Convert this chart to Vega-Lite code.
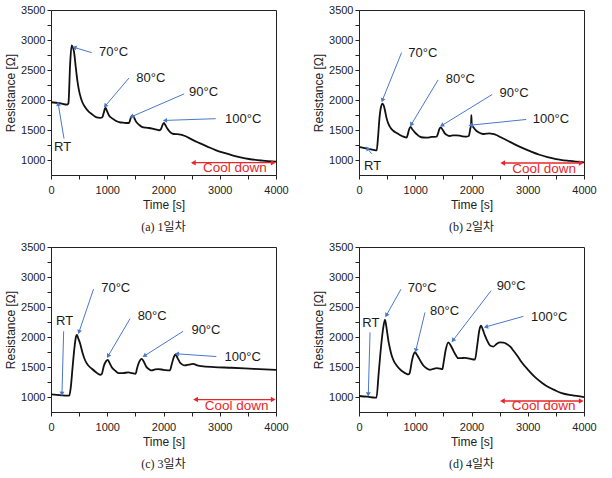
{
"$schema": "https://vega.github.io/schema/vega-lite/v6.json",
"background": "white",
"padding": {"left": 4, "top": 3, "right": 0, "bottom": 0},
"bounds": "flush",
"columns": 2,
"spacing": {"row": 72, "column": 83},
"config": {
  "view": {"stroke": "#222", "strokeWidth": 1},
  "axis": {"grid": false, "domainColor": "#222", "tickColor": "#222", "tickSize": 4, "tickCount": 40, "labelColor": "#222", "labelFont": "Liberation Sans", "labelFontSize": 11, "titleFont": "Liberation Sans", "titleFontSize": 12, "titleFontWeight": "normal", "titleColor": "#222", "labelFlush": false, "labelOverlap": false, "labelBound": false},
  "axisX": {"labelPadding": 5, "titlePadding": 4},
  "axisY": {"labelPadding": 2, "titlePadding": 3},
  "title": {"font": "Liberation Serif, Noto Sans CJK KR", "fontSize": 12, "fontWeight": "normal", "color": "#222", "orient": "bottom", "offset": 12}
},
"datasets": {
  "curve": [
    {"p":"a","t":0,"r":1965},{"p":"a","t":150,"r":1950},{"p":"a","t":290,"r":1925},{"p":"a","t":310,"r":1950},{"p":"a","t":340,"r":2600},{"p":"a","t":367,"r":2915},{"p":"a","t":390,"r":2880},{"p":"a","t":410,"r":2800},{"p":"a","t":440,"r":2550},{"p":"a","t":468,"r":2330},{"p":"a","t":500,"r":2150},{"p":"a","t":527,"r":2050},{"p":"a","t":560,"r":1960},{"p":"a","t":604,"r":1885},{"p":"a","t":670,"r":1810},{"p":"a","t":735,"r":1760},{"p":"a","t":800,"r":1715},{"p":"a","t":870,"r":1705},{"p":"a","t":913,"r":1715},{"p":"a","t":935,"r":1780},{"p":"a","t":960,"r":1860},{"p":"a","t":972,"r":1872},{"p":"a","t":990,"r":1830},{"p":"a","t":1031,"r":1745},{"p":"a","t":1080,"r":1700},{"p":"a","t":1120,"r":1675},{"p":"a","t":1170,"r":1648},{"p":"a","t":1209,"r":1634},{"p":"a","t":1300,"r":1622},{"p":"a","t":1387,"r":1618},{"p":"a","t":1410,"r":1680},{"p":"a","t":1440,"r":1742},{"p":"a","t":1460,"r":1735},{"p":"a","t":1517,"r":1634},{"p":"a","t":1570,"r":1585},{"p":"a","t":1624,"r":1551},{"p":"a","t":1690,"r":1540},{"p":"a","t":1743,"r":1535},{"p":"a","t":1820,"r":1520},{"p":"a","t":1920,"r":1497},{"p":"a","t":1950,"r":1510},{"p":"a","t":1985,"r":1590},{"p":"a","t":2009,"r":1618},{"p":"a","t":2030,"r":1590},{"p":"a","t":2068,"r":1525},{"p":"a","t":2110,"r":1475},{"p":"a","t":2157,"r":1442},{"p":"a","t":2220,"r":1432},{"p":"a","t":2276,"r":1430},{"p":"a","t":2394,"r":1397},{"p":"a","t":2500,"r":1345},{"p":"a","t":2631,"r":1287},{"p":"a","t":2780,"r":1225},{"p":"a","t":2927,"r":1166},{"p":"a","t":3080,"r":1118},{"p":"a","t":3224,"r":1078},{"p":"a","t":3370,"r":1045},{"p":"a","t":3520,"r":1017},{"p":"a","t":3760,"r":990},{"p":"a","t":4000,"r":972},
    {"p":"b","t":0,"r":1220},{"p":"b","t":100,"r":1200},{"p":"b","t":195,"r":1182},{"p":"b","t":260,"r":1170},{"p":"b","t":314,"r":1160},{"p":"b","t":340,"r":1400},{"p":"b","t":361,"r":1666},{"p":"b","t":390,"r":1880},{"p":"b","t":420,"r":1942},{"p":"b","t":440,"r":1910},{"p":"b","t":461,"r":1831},{"p":"b","t":490,"r":1700},{"p":"b","t":520,"r":1611},{"p":"b","t":560,"r":1540},{"p":"b","t":609,"r":1489},{"p":"b","t":670,"r":1450},{"p":"b","t":727,"r":1418},{"p":"b","t":790,"r":1390},{"p":"b","t":845,"r":1374},{"p":"b","t":865,"r":1420},{"p":"b","t":890,"r":1510},{"p":"b","t":916,"r":1555},{"p":"b","t":950,"r":1510},{"p":"b","t":993,"r":1463},{"p":"b","t":1040,"r":1420},{"p":"b","t":1082,"r":1390},{"p":"b","t":1140,"r":1376},{"p":"b","t":1200,"r":1374},{"p":"b","t":1290,"r":1385},{"p":"b","t":1377,"r":1390},{"p":"b","t":1400,"r":1430},{"p":"b","t":1430,"r":1520},{"p":"b","t":1453,"r":1545},{"p":"b","t":1490,"r":1500},{"p":"b","t":1525,"r":1446},{"p":"b","t":1570,"r":1415},{"p":"b","t":1613,"r":1401},{"p":"b","t":1670,"r":1410},{"p":"b","t":1731,"r":1413},{"p":"b","t":1820,"r":1400},{"p":"b","t":1908,"r":1390},{"p":"b","t":1950,"r":1400},{"p":"b","t":1980,"r":1530},{"p":"b","t":1992,"r":1590},{"p":"b","t":1997,"r":1748},{"p":"b","t":2003,"r":1620},{"p":"b","t":2009,"r":1583},{"p":"b","t":2040,"r":1540},{"p":"b","t":2086,"r":1489},{"p":"b","t":2140,"r":1455},{"p":"b","t":2204,"r":1435},{"p":"b","t":2260,"r":1440},{"p":"b","t":2322,"r":1446},{"p":"b","t":2380,"r":1435},{"p":"b","t":2440,"r":1418},{"p":"b","t":2520,"r":1380},{"p":"b","t":2617,"r":1335},{"p":"b","t":2760,"r":1265},{"p":"b","t":2913,"r":1198},{"p":"b","t":3060,"r":1140},{"p":"b","t":3208,"r":1088},{"p":"b","t":3350,"r":1050},{"p":"b","t":3504,"r":1017},{"p":"b","t":3750,"r":985},{"p":"b","t":4000,"r":960},
    {"p":"c","t":0,"r":1045},{"p":"c","t":100,"r":1035},{"p":"c","t":195,"r":1028},{"p":"c","t":260,"r":1025},{"p":"c","t":325,"r":1023},{"p":"c","t":350,"r":1150},{"p":"c","t":384,"r":1499},{"p":"c","t":420,"r":1850},{"p":"c","t":445,"r":2010},{"p":"c","t":461,"r":2037},{"p":"c","t":480,"r":1990},{"p":"c","t":520,"r":1887},{"p":"c","t":560,"r":1740},{"p":"c","t":608,"r":1610},{"p":"c","t":660,"r":1530},{"p":"c","t":726,"r":1472},{"p":"c","t":800,"r":1415},{"p":"c","t":850,"r":1380},{"p":"c","t":874,"r":1372},{"p":"c","t":900,"r":1380},{"p":"c","t":940,"r":1520},{"p":"c","t":980,"r":1600},{"p":"c","t":1009,"r":1621},{"p":"c","t":1040,"r":1570},{"p":"c","t":1080,"r":1499},{"p":"c","t":1140,"r":1440},{"p":"c","t":1198,"r":1399},{"p":"c","t":1280,"r":1400},{"p":"c","t":1375,"r":1411},{"p":"c","t":1440,"r":1400},{"p":"c","t":1505,"r":1389},{"p":"c","t":1530,"r":1480},{"p":"c","t":1570,"r":1590},{"p":"c","t":1611,"r":1638},{"p":"c","t":1650,"r":1590},{"p":"c","t":1700,"r":1499},{"p":"c","t":1750,"r":1460},{"p":"c","t":1788,"r":1444},{"p":"c","t":1850,"r":1460},{"p":"c","t":1906,"r":1466},{"p":"c","t":2000,"r":1455},{"p":"c","t":2113,"r":1444},{"p":"c","t":2150,"r":1560},{"p":"c","t":2185,"r":1670},{"p":"c","t":2213,"r":1710},{"p":"c","t":2250,"r":1650},{"p":"c","t":2289,"r":1582},{"p":"c","t":2330,"r":1545},{"p":"c","t":2378,"r":1527},{"p":"c","t":2450,"r":1540},{"p":"c","t":2525,"r":1555},{"p":"c","t":2600,"r":1530},{"p":"c","t":2673,"r":1515},{"p":"c","t":2900,"r":1500},{"p":"c","t":3204,"r":1489},{"p":"c","t":3600,"r":1470},{"p":"c","t":4000,"r":1452},
    {"p":"d","t":0,"r":1017},{"p":"d","t":150,"r":1005},{"p":"d","t":284,"r":990},{"p":"d","t":310,"r":990},{"p":"d","t":350,"r":1400},{"p":"d","t":391,"r":1831},{"p":"d","t":430,"r":2150},{"p":"d","t":462,"r":2291},{"p":"d","t":490,"r":2150},{"p":"d","t":522,"r":1942},{"p":"d","t":550,"r":1810},{"p":"d","t":581,"r":1693},{"p":"d","t":620,"r":1600},{"p":"d","t":670,"r":1527},{"p":"d","t":730,"r":1460},{"p":"d","t":788,"r":1416},{"p":"d","t":850,"r":1385},{"p":"d","t":877,"r":1377},{"p":"d","t":900,"r":1400},{"p":"d","t":940,"r":1600},{"p":"d","t":970,"r":1710},{"p":"d","t":996,"r":1748},{"p":"d","t":1020,"r":1720},{"p":"d","t":1055,"r":1665},{"p":"d","t":1100,"r":1590},{"p":"d","t":1144,"r":1527},{"p":"d","t":1200,"r":1480},{"p":"d","t":1262,"r":1455},{"p":"d","t":1320,"r":1470},{"p":"d","t":1381,"r":1482},{"p":"d","t":1440,"r":1475},{"p":"d","t":1482,"r":1466},{"p":"d","t":1500,"r":1550},{"p":"d","t":1540,"r":1780},{"p":"d","t":1588,"r":1914},{"p":"d","t":1630,"r":1860},{"p":"d","t":1677,"r":1776},{"p":"d","t":1720,"r":1700},{"p":"d","t":1766,"r":1648},{"p":"d","t":1820,"r":1650},{"p":"d","t":1885,"r":1654},{"p":"d","t":1970,"r":1640},{"p":"d","t":2062,"r":1626},{"p":"d","t":2100,"r":1850},{"p":"d","t":2140,"r":2120},{"p":"d","t":2169,"r":2192},{"p":"d","t":2200,"r":2130},{"p":"d","t":2240,"r":2025},{"p":"d","t":2290,"r":1920},{"p":"d","t":2329,"r":1859},{"p":"d","t":2389,"r":1843},{"p":"d","t":2450,"r":1890},{"p":"d","t":2507,"r":1914},{"p":"d","t":2570,"r":1910},{"p":"d","t":2625,"r":1887},{"p":"d","t":2690,"r":1840},{"p":"d","t":2744,"r":1776},{"p":"d","t":2820,"r":1680},{"p":"d","t":2892,"r":1582},{"p":"d","t":3010,"r":1450},{"p":"d","t":3129,"r":1332},{"p":"d","t":3250,"r":1240},{"p":"d","t":3366,"r":1166},{"p":"d","t":3490,"r":1110},{"p":"d","t":3603,"r":1066},{"p":"d","t":3780,"r":1030},{"p":"d","t":4000,"r":1000}
  ],
  "arrows": [
    {"p":"a","x":231,"y":1359,"x2":130,"y2":1927},{"p":"a","x":723,"y":2793,"x2":427,"y2":2876},{"p":"a","x":1387,"y":2370,"x2":972,"y2":1911},{"p":"a","x":2365,"y":2104,"x2":1446,"y2":1729},{"p":"a","x":2928,"y":1690,"x2":2039,"y2":1662},
    {"p":"b","x":225,"y":1104,"x2":154,"y2":1187},{"p":"b","x":757,"y":2794,"x2":420,"y2":2008},{"p":"b","x":1406,"y":2338,"x2":934,"y2":1600},{"p":"b","x":2369,"y":2095,"x2":1483,"y2":1583},{"p":"b","x":2972,"y":1677,"x2":1997,"y2":1583},
    {"p":"c","x":225,"y":2097,"x2":195,"y2":1066},{"p":"c","x":756,"y":2801,"x2":502,"y2":2097},{"p":"c","x":1405,"y":2308,"x2":1021,"y2":1693},{"p":"c","x":2349,"y":2097,"x2":1670,"y2":1693},{"p":"c","x":2939,"y":1676,"x2":2249,"y2":1721},
    {"p":"d","x":196,"y":2080,"x2":166,"y2":1056},{"p":"d","x":747,"y":2801,"x2":492,"y2":2374},{"p":"d","x":1173,"y":2412,"x2":1013,"y2":1788},{"p":"d","x":2347,"y":2774,"x2":1677,"y2":1954},{"p":"d","x":2922,"y":2347,"x2":2269,"y2":2175}
  ],
  "labels": [
    {"p":"a","label":"RT","x":53,"y":1220},{"p":"a","label":"70°C","x":853,"y":2810},{"p":"a","label":"80°C","x":1517,"y":2363},{"p":"a","label":"90°C","x":2454,"y":2131},{"p":"a","label":"100°C","x":3094,"y":1690},
    {"p":"b","label":"RT","x":89,"y":894},{"p":"b","label":"70°C","x":875,"y":2794},{"p":"b","label":"80°C","x":1543,"y":2355},{"p":"b","label":"90°C","x":2499,"y":2117},{"p":"b","label":"100°C","x":3090,"y":1677},
    {"p":"c","label":"RT","x":89,"y":2263},{"p":"c","label":"70°C","x":892,"y":2818},{"p":"c","label":"80°C","x":1540,"y":2358},{"p":"c","label":"90°C","x":2496,"y":2120},{"p":"c","label":"100°C","x":3086,"y":1676},
    {"p":"d","label":"RT","x":59,"y":2230},{"p":"d","label":"70°C","x":865,"y":2818},{"p":"d","label":"80°C","x":1262,"y":2429},{"p":"d","label":"90°C","x":2447,"y":2857},{"p":"d","label":"100°C","x":3058,"y":2330}
  ],
  "cool": [
    {"p":"a","x":2530,"x2":3950,"y":955,"label":"Cool down","tx":2703,"ty":862},
    {"p":"b","x":2555,"x2":3950,"y":950,"label":"Cool down","tx":2724,"ty":851},
    {"p":"c","x":2570,"x2":3950,"y":957,"label":"Cool down","tx":2732,"ty":850},
    {"p":"d","x":2550,"x2":3950,"y":934,"label":"Cool down","tx":2714,"ty":850}
  ]
},
"concat": [
  {"width": 225, "height": 165, "title": {"text": "(a) 1일차"},
   "layer": [
    {"data": {"name": "curve"}, "transform": [{"filter": "datum.p === 'a'"}], "mark": {"type": "line", "color": "#111", "strokeWidth": 1.8, "interpolate": "monotone"},
     "encoding": {"x": {"field": "t", "type": "quantitative", "scale": {"domain": [0, 4000], "nice": false}, "title": "Time [s]", "axis": {"values": [0,500,1000,1500,2000,2500,3000,3500,4000], "tickCount": 40, "format": "d", "labelExpr": "datum.value % 1000 === 0 ? datum.label : ''"}},
                  "y": {"field": "r", "type": "quantitative", "scale": {"domain": [750, 3505], "nice": false}, "title": "Resistance [Ω]", "axis": {"values": [1000,1250,1500,1750,2000,2250,2500,2750,3000,3250,3500], "tickCount": 40, "format": "d", "labelOverlap": false, "labelExpr": "datum.value % 500 === 0 ? datum.label : ''"}}}},
    {"data": {"name": "arrows"}, "transform": [{"filter": "datum.p === 'a'"}], "mark": {"type": "rule", "color": "#4a78c8", "strokeWidth": 1},
     "encoding": {"x": {"field": "x", "type": "quantitative", "scale": {"domain": [0, 4000], "nice": false}}, "y": {"field": "y", "type": "quantitative", "scale": {"domain": [750, 3505], "nice": false}}, "x2": {"field": "x2"}, "y2": {"field": "y2"}}},
    {"data": {"name": "arrows"}, "transform": [{"filter": "datum.p === 'a'"}, {"calculate": "atan2((datum.x2 - datum.x) * 0.05625, (datum.y2 - datum.y) * 0.06) * 180 / PI", "as": "ang"}], "mark": {"type": "point", "shape": "triangle", "filled": true, "size": 24, "color": "#4a78c8", "opacity": 1},
     "encoding": {"x": {"field": "x2", "type": "quantitative", "scale": {"domain": [0, 4000], "nice": false}}, "y": {"field": "y2", "type": "quantitative", "scale": {"domain": [750, 3505], "nice": false}}, "angle": {"field": "ang", "type": "quantitative", "scale": null}}},
    {"data": {"name": "labels"}, "transform": [{"filter": "datum.p === 'a'"}], "mark": {"type": "text", "align": "left", "baseline": "middle", "font": "Liberation Sans", "fontSize": 13, "color": "#1a1a1a"},
     "encoding": {"x": {"field": "x", "type": "quantitative", "scale": {"domain": [0, 4000], "nice": false}}, "y": {"field": "y", "type": "quantitative", "scale": {"domain": [750, 3505], "nice": false}}, "text": {"field": "label"}}},
    {"data": {"name": "cool"}, "transform": [{"filter": "datum.p === 'a'"}], "mark": {"type": "rule", "color": "#e8262a", "strokeWidth": 1.3},
     "encoding": {"x": {"field": "x", "type": "quantitative", "scale": {"domain": [0, 4000], "nice": false}}, "x2": {"field": "x2"}, "y": {"field": "y", "type": "quantitative", "scale": {"domain": [750, 3505], "nice": false}}}},
    {"data": {"name": "cool"}, "transform": [{"filter": "datum.p === 'a'"}], "mark": {"type": "point", "shape": "triangle-left", "filled": true, "size": 30, "color": "#e8262a", "opacity": 1},
     "encoding": {"x": {"field": "x", "type": "quantitative", "scale": {"domain": [0, 4000], "nice": false}}, "y": {"field": "y", "type": "quantitative", "scale": {"domain": [750, 3505], "nice": false}}}},
    {"data": {"name": "cool"}, "transform": [{"filter": "datum.p === 'a'"}], "mark": {"type": "point", "shape": "triangle-right", "filled": true, "size": 30, "color": "#e8262a", "opacity": 1},
     "encoding": {"x": {"field": "x2", "type": "quantitative", "scale": {"domain": [0, 4000], "nice": false}}, "y": {"field": "y", "type": "quantitative", "scale": {"domain": [750, 3505], "nice": false}}}},
    {"data": {"name": "cool"}, "transform": [{"filter": "datum.p === 'a'"}], "mark": {"type": "text", "align": "left", "baseline": "middle", "font": "Liberation Sans", "fontSize": 13.5, "color": "#e8262a"},
     "encoding": {"x": {"field": "tx", "type": "quantitative", "scale": {"domain": [0, 4000], "nice": false}}, "y": {"field": "ty", "type": "quantitative", "scale": {"domain": [750, 3505], "nice": false}}, "text": {"field": "label"}}}
   ]},
  {"width": 225, "height": 165, "title": {"text": "(b) 2일차"},
   "layer": [
    {"data": {"name": "curve"}, "transform": [{"filter": "datum.p === 'b'"}], "mark": {"type": "line", "color": "#111", "strokeWidth": 1.8, "interpolate": "monotone"},
     "encoding": {"x": {"field": "t", "type": "quantitative", "scale": {"domain": [0, 4000], "nice": false}, "title": "Time [s]", "axis": {"values": [0,500,1000,1500,2000,2500,3000,3500,4000], "tickCount": 40, "format": "d", "labelExpr": "datum.value % 1000 === 0 ? datum.label : ''"}},
                  "y": {"field": "r", "type": "quantitative", "scale": {"domain": [750, 3505], "nice": false}, "title": "Resistance [Ω]", "axis": {"values": [1000,1250,1500,1750,2000,2250,2500,2750,3000,3250,3500], "tickCount": 40, "format": "d", "labelOverlap": false, "labelExpr": "datum.value % 500 === 0 ? datum.label : ''"}}}},
    {"data": {"name": "arrows"}, "transform": [{"filter": "datum.p === 'b'"}], "mark": {"type": "rule", "color": "#4a78c8", "strokeWidth": 1},
     "encoding": {"x": {"field": "x", "type": "quantitative", "scale": {"domain": [0, 4000], "nice": false}}, "y": {"field": "y", "type": "quantitative", "scale": {"domain": [750, 3505], "nice": false}}, "x2": {"field": "x2"}, "y2": {"field": "y2"}}},
    {"data": {"name": "arrows"}, "transform": [{"filter": "datum.p === 'b'"}, {"calculate": "atan2((datum.x2 - datum.x) * 0.05625, (datum.y2 - datum.y) * 0.06) * 180 / PI", "as": "ang"}], "mark": {"type": "point", "shape": "triangle", "filled": true, "size": 24, "color": "#4a78c8", "opacity": 1},
     "encoding": {"x": {"field": "x2", "type": "quantitative", "scale": {"domain": [0, 4000], "nice": false}}, "y": {"field": "y2", "type": "quantitative", "scale": {"domain": [750, 3505], "nice": false}}, "angle": {"field": "ang", "type": "quantitative", "scale": null}}},
    {"data": {"name": "labels"}, "transform": [{"filter": "datum.p === 'b'"}], "mark": {"type": "text", "align": "left", "baseline": "middle", "font": "Liberation Sans", "fontSize": 13, "color": "#1a1a1a"},
     "encoding": {"x": {"field": "x", "type": "quantitative", "scale": {"domain": [0, 4000], "nice": false}}, "y": {"field": "y", "type": "quantitative", "scale": {"domain": [750, 3505], "nice": false}}, "text": {"field": "label"}}},
    {"data": {"name": "cool"}, "transform": [{"filter": "datum.p === 'b'"}], "mark": {"type": "rule", "color": "#e8262a", "strokeWidth": 1.3},
     "encoding": {"x": {"field": "x", "type": "quantitative", "scale": {"domain": [0, 4000], "nice": false}}, "x2": {"field": "x2"}, "y": {"field": "y", "type": "quantitative", "scale": {"domain": [750, 3505], "nice": false}}}},
    {"data": {"name": "cool"}, "transform": [{"filter": "datum.p === 'b'"}], "mark": {"type": "point", "shape": "triangle-left", "filled": true, "size": 30, "color": "#e8262a", "opacity": 1},
     "encoding": {"x": {"field": "x", "type": "quantitative", "scale": {"domain": [0, 4000], "nice": false}}, "y": {"field": "y", "type": "quantitative", "scale": {"domain": [750, 3505], "nice": false}}}},
    {"data": {"name": "cool"}, "transform": [{"filter": "datum.p === 'b'"}], "mark": {"type": "point", "shape": "triangle-right", "filled": true, "size": 30, "color": "#e8262a", "opacity": 1},
     "encoding": {"x": {"field": "x2", "type": "quantitative", "scale": {"domain": [0, 4000], "nice": false}}, "y": {"field": "y", "type": "quantitative", "scale": {"domain": [750, 3505], "nice": false}}}},
    {"data": {"name": "cool"}, "transform": [{"filter": "datum.p === 'b'"}], "mark": {"type": "text", "align": "left", "baseline": "middle", "font": "Liberation Sans", "fontSize": 13.5, "color": "#e8262a"},
     "encoding": {"x": {"field": "tx", "type": "quantitative", "scale": {"domain": [0, 4000], "nice": false}}, "y": {"field": "ty", "type": "quantitative", "scale": {"domain": [750, 3505], "nice": false}}, "text": {"field": "label"}}}
   ]},
  {"width": 225, "height": 165, "title": {"text": "(c) 3일차"},
   "layer": [
    {"data": {"name": "curve"}, "transform": [{"filter": "datum.p === 'c'"}], "mark": {"type": "line", "color": "#111", "strokeWidth": 1.8, "interpolate": "monotone"},
     "encoding": {"x": {"field": "t", "type": "quantitative", "scale": {"domain": [0, 4000], "nice": false}, "title": "Time [s]", "axis": {"values": [0,500,1000,1500,2000,2500,3000,3500,4000], "tickCount": 40, "format": "d", "labelExpr": "datum.value % 1000 === 0 ? datum.label : ''"}},
                  "y": {"field": "r", "type": "quantitative", "scale": {"domain": [750, 3505], "nice": false}, "title": "Resistance [Ω]", "axis": {"values": [1000,1250,1500,1750,2000,2250,2500,2750,3000,3250,3500], "tickCount": 40, "format": "d", "labelOverlap": false, "labelExpr": "datum.value % 500 === 0 ? datum.label : ''"}}}},
    {"data": {"name": "arrows"}, "transform": [{"filter": "datum.p === 'c'"}], "mark": {"type": "rule", "color": "#4a78c8", "strokeWidth": 1},
     "encoding": {"x": {"field": "x", "type": "quantitative", "scale": {"domain": [0, 4000], "nice": false}}, "y": {"field": "y", "type": "quantitative", "scale": {"domain": [750, 3505], "nice": false}}, "x2": {"field": "x2"}, "y2": {"field": "y2"}}},
    {"data": {"name": "arrows"}, "transform": [{"filter": "datum.p === 'c'"}, {"calculate": "atan2((datum.x2 - datum.x) * 0.05625, (datum.y2 - datum.y) * 0.06) * 180 / PI", "as": "ang"}], "mark": {"type": "point", "shape": "triangle", "filled": true, "size": 24, "color": "#4a78c8", "opacity": 1},
     "encoding": {"x": {"field": "x2", "type": "quantitative", "scale": {"domain": [0, 4000], "nice": false}}, "y": {"field": "y2", "type": "quantitative", "scale": {"domain": [750, 3505], "nice": false}}, "angle": {"field": "ang", "type": "quantitative", "scale": null}}},
    {"data": {"name": "labels"}, "transform": [{"filter": "datum.p === 'c'"}], "mark": {"type": "text", "align": "left", "baseline": "middle", "font": "Liberation Sans", "fontSize": 13, "color": "#1a1a1a"},
     "encoding": {"x": {"field": "x", "type": "quantitative", "scale": {"domain": [0, 4000], "nice": false}}, "y": {"field": "y", "type": "quantitative", "scale": {"domain": [750, 3505], "nice": false}}, "text": {"field": "label"}}},
    {"data": {"name": "cool"}, "transform": [{"filter": "datum.p === 'c'"}], "mark": {"type": "rule", "color": "#e8262a", "strokeWidth": 1.3},
     "encoding": {"x": {"field": "x", "type": "quantitative", "scale": {"domain": [0, 4000], "nice": false}}, "x2": {"field": "x2"}, "y": {"field": "y", "type": "quantitative", "scale": {"domain": [750, 3505], "nice": false}}}},
    {"data": {"name": "cool"}, "transform": [{"filter": "datum.p === 'c'"}], "mark": {"type": "point", "shape": "triangle-left", "filled": true, "size": 30, "color": "#e8262a", "opacity": 1},
     "encoding": {"x": {"field": "x", "type": "quantitative", "scale": {"domain": [0, 4000], "nice": false}}, "y": {"field": "y", "type": "quantitative", "scale": {"domain": [750, 3505], "nice": false}}}},
    {"data": {"name": "cool"}, "transform": [{"filter": "datum.p === 'c'"}], "mark": {"type": "point", "shape": "triangle-right", "filled": true, "size": 30, "color": "#e8262a", "opacity": 1},
     "encoding": {"x": {"field": "x2", "type": "quantitative", "scale": {"domain": [0, 4000], "nice": false}}, "y": {"field": "y", "type": "quantitative", "scale": {"domain": [750, 3505], "nice": false}}}},
    {"data": {"name": "cool"}, "transform": [{"filter": "datum.p === 'c'"}], "mark": {"type": "text", "align": "left", "baseline": "middle", "font": "Liberation Sans", "fontSize": 13.5, "color": "#e8262a"},
     "encoding": {"x": {"field": "tx", "type": "quantitative", "scale": {"domain": [0, 4000], "nice": false}}, "y": {"field": "ty", "type": "quantitative", "scale": {"domain": [750, 3505], "nice": false}}, "text": {"field": "label"}}}
   ]},
  {"width": 225, "height": 165, "title": {"text": "(d) 4일차"},
   "layer": [
    {"data": {"name": "curve"}, "transform": [{"filter": "datum.p === 'd'"}], "mark": {"type": "line", "color": "#111", "strokeWidth": 1.8, "interpolate": "monotone"},
     "encoding": {"x": {"field": "t", "type": "quantitative", "scale": {"domain": [0, 4000], "nice": false}, "title": "Time [s]", "axis": {"values": [0,500,1000,1500,2000,2500,3000,3500,4000], "tickCount": 40, "format": "d", "labelExpr": "datum.value % 1000 === 0 ? datum.label : ''"}},
                  "y": {"field": "r", "type": "quantitative", "scale": {"domain": [750, 3505], "nice": false}, "title": "Resistance [Ω]", "axis": {"values": [1000,1250,1500,1750,2000,2250,2500,2750,3000,3250,3500], "tickCount": 40, "format": "d", "labelOverlap": false, "labelExpr": "datum.value % 500 === 0 ? datum.label : ''"}}}},
    {"data": {"name": "arrows"}, "transform": [{"filter": "datum.p === 'd'"}], "mark": {"type": "rule", "color": "#4a78c8", "strokeWidth": 1},
     "encoding": {"x": {"field": "x", "type": "quantitative", "scale": {"domain": [0, 4000], "nice": false}}, "y": {"field": "y", "type": "quantitative", "scale": {"domain": [750, 3505], "nice": false}}, "x2": {"field": "x2"}, "y2": {"field": "y2"}}},
    {"data": {"name": "arrows"}, "transform": [{"filter": "datum.p === 'd'"}, {"calculate": "atan2((datum.x2 - datum.x) * 0.05625, (datum.y2 - datum.y) * 0.06) * 180 / PI", "as": "ang"}], "mark": {"type": "point", "shape": "triangle", "filled": true, "size": 24, "color": "#4a78c8", "opacity": 1},
     "encoding": {"x": {"field": "x2", "type": "quantitative", "scale": {"domain": [0, 4000], "nice": false}}, "y": {"field": "y2", "type": "quantitative", "scale": {"domain": [750, 3505], "nice": false}}, "angle": {"field": "ang", "type": "quantitative", "scale": null}}},
    {"data": {"name": "labels"}, "transform": [{"filter": "datum.p === 'd'"}], "mark": {"type": "text", "align": "left", "baseline": "middle", "font": "Liberation Sans", "fontSize": 13, "color": "#1a1a1a"},
     "encoding": {"x": {"field": "x", "type": "quantitative", "scale": {"domain": [0, 4000], "nice": false}}, "y": {"field": "y", "type": "quantitative", "scale": {"domain": [750, 3505], "nice": false}}, "text": {"field": "label"}}},
    {"data": {"name": "cool"}, "transform": [{"filter": "datum.p === 'd'"}], "mark": {"type": "rule", "color": "#e8262a", "strokeWidth": 1.3},
     "encoding": {"x": {"field": "x", "type": "quantitative", "scale": {"domain": [0, 4000], "nice": false}}, "x2": {"field": "x2"}, "y": {"field": "y", "type": "quantitative", "scale": {"domain": [750, 3505], "nice": false}}}},
    {"data": {"name": "cool"}, "transform": [{"filter": "datum.p === 'd'"}], "mark": {"type": "point", "shape": "triangle-left", "filled": true, "size": 30, "color": "#e8262a", "opacity": 1},
     "encoding": {"x": {"field": "x", "type": "quantitative", "scale": {"domain": [0, 4000], "nice": false}}, "y": {"field": "y", "type": "quantitative", "scale": {"domain": [750, 3505], "nice": false}}}},
    {"data": {"name": "cool"}, "transform": [{"filter": "datum.p === 'd'"}], "mark": {"type": "point", "shape": "triangle-right", "filled": true, "size": 30, "color": "#e8262a", "opacity": 1},
     "encoding": {"x": {"field": "x2", "type": "quantitative", "scale": {"domain": [0, 4000], "nice": false}}, "y": {"field": "y", "type": "quantitative", "scale": {"domain": [750, 3505], "nice": false}}}},
    {"data": {"name": "cool"}, "transform": [{"filter": "datum.p === 'd'"}], "mark": {"type": "text", "align": "left", "baseline": "middle", "font": "Liberation Sans", "fontSize": 13.5, "color": "#e8262a"},
     "encoding": {"x": {"field": "tx", "type": "quantitative", "scale": {"domain": [0, 4000], "nice": false}}, "y": {"field": "ty", "type": "quantitative", "scale": {"domain": [750, 3505], "nice": false}}, "text": {"field": "label"}}}
   ]}
]
}
